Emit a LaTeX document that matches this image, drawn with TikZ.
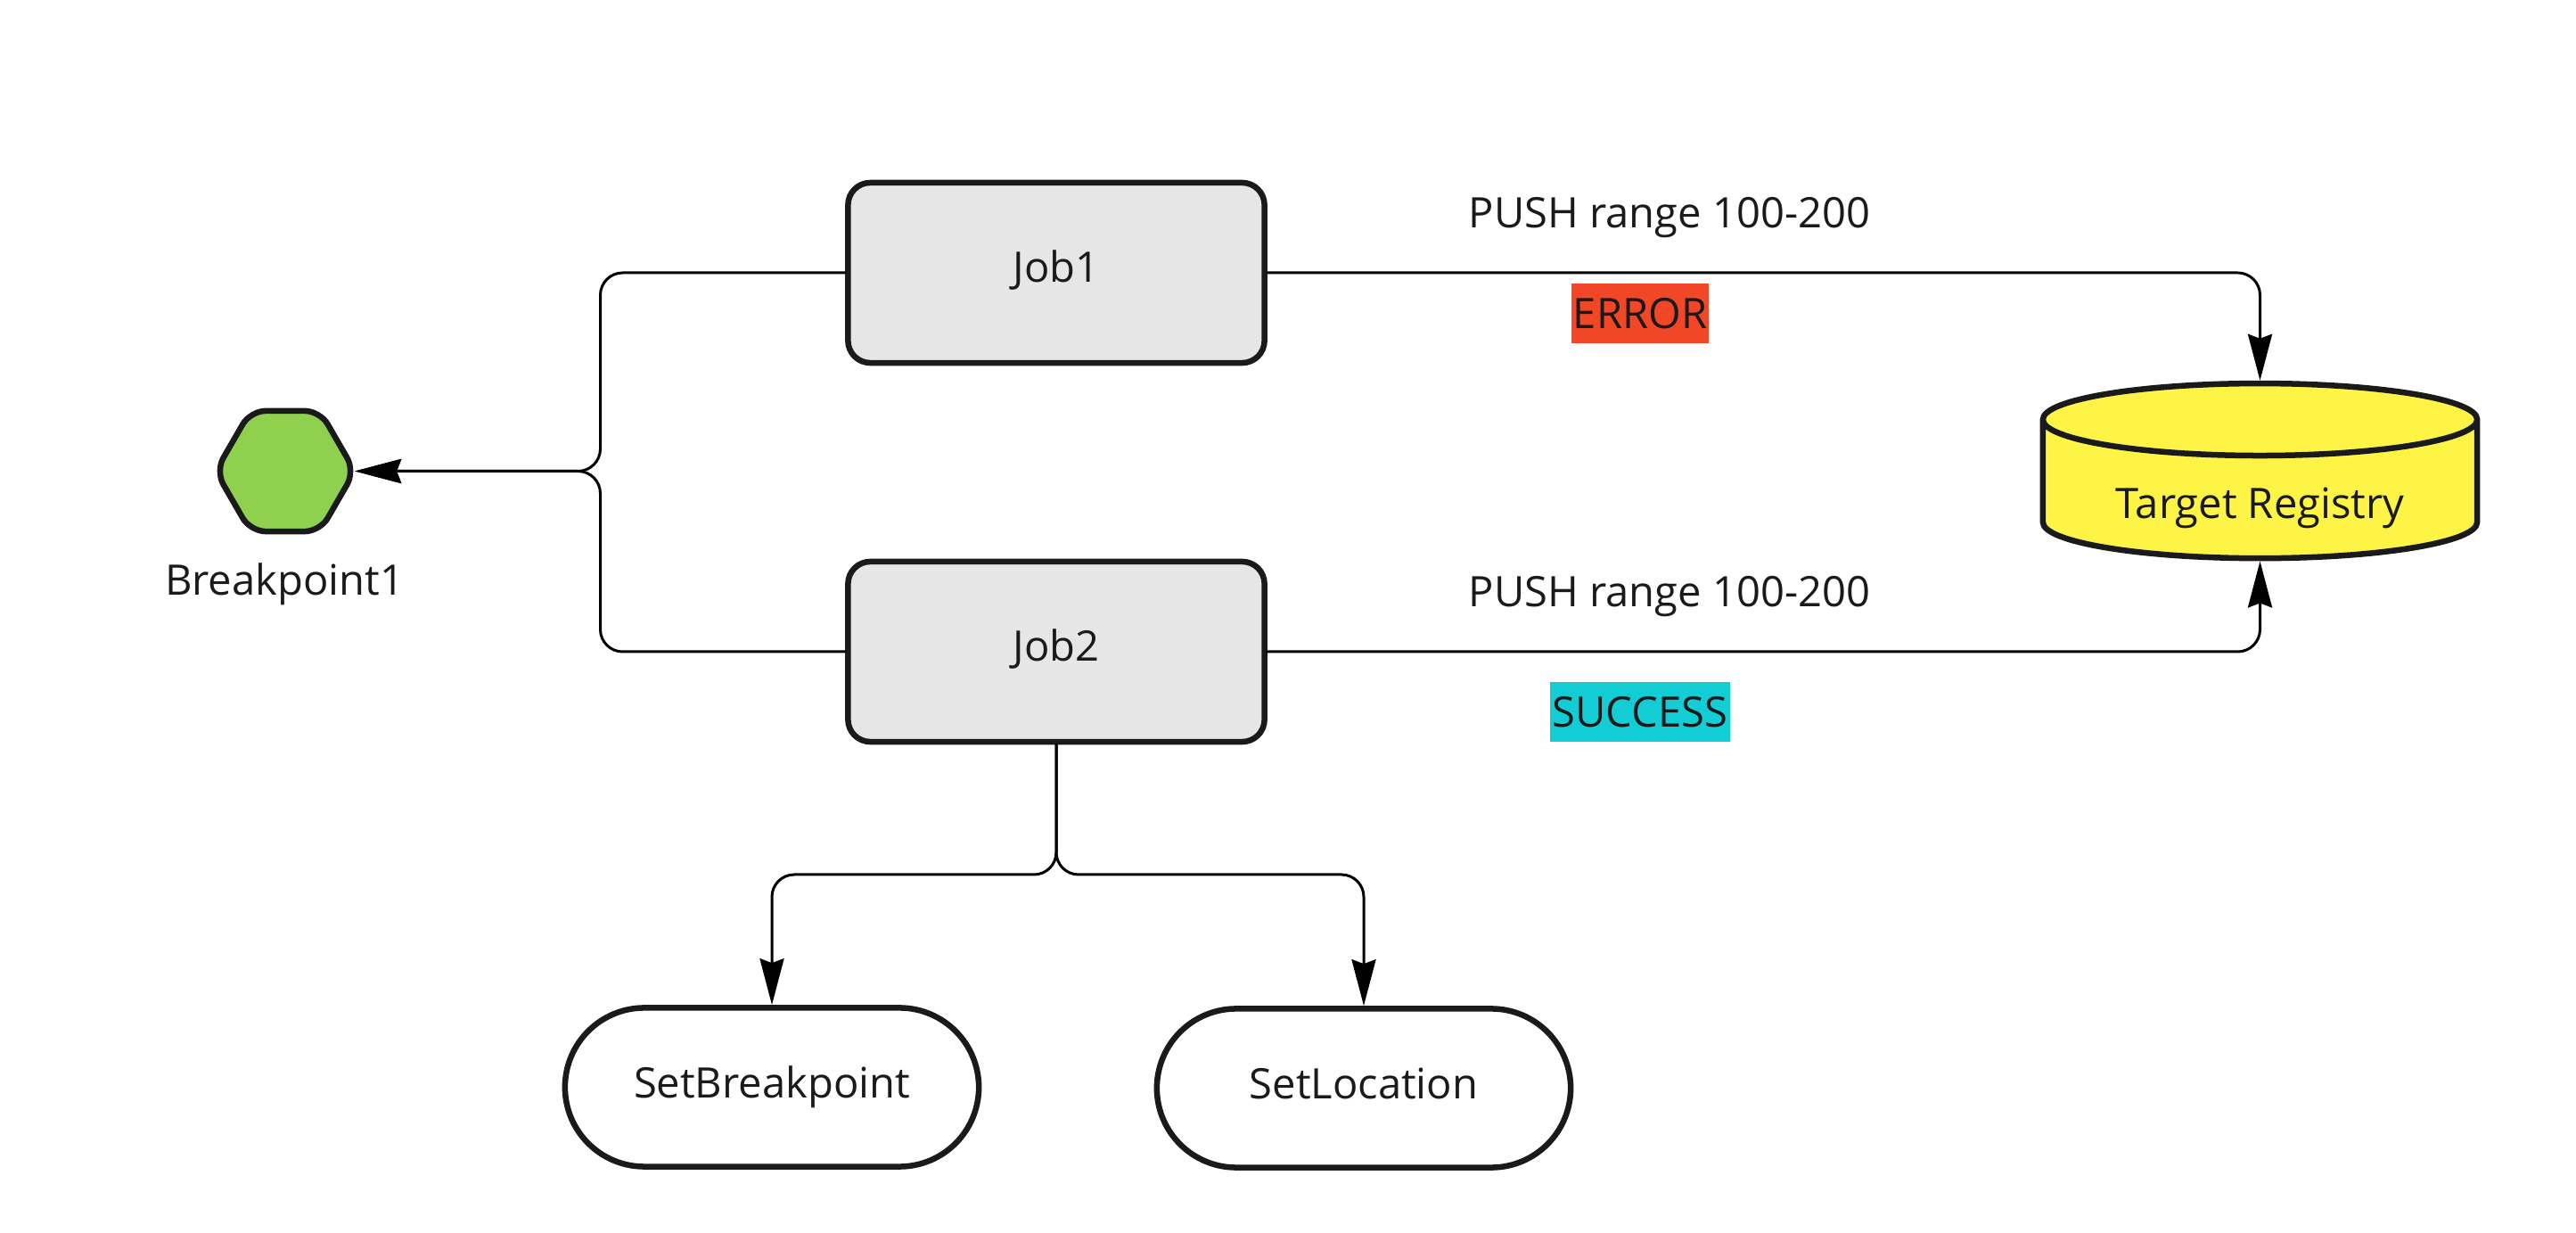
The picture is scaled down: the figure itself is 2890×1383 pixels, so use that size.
\documentclass[tikz,border=0pt]{standalone}
\usepackage{fontspec}
\setmainfont{Open Sans}
\usetikzlibrary{arrows.meta,shapes.geometric,shapes.misc}
\definecolor{inkgray}{HTML}{1A1A1A}
\definecolor{jobgray}{HTML}{E6E6E6}
\definecolor{hexgreen}{HTML}{8FD14F}
\definecolor{dbyellow}{HTML}{FEF445}
\definecolor{errorred}{HTML}{F24726}
\definecolor{successcyan}{HTML}{12CDD4}
\tikzset{
	jobbox/.style={draw=inkgray,fill=jobgray,line width=0.065cm,rounded corners=0.25cm,minimum width=4.67cm,minimum height=2.02cm,inner sep=0pt,text height=0.4cm,text depth=0.18cm},
	pillbox/.style={draw=inkgray,fill=white,line width=0.065cm,rounded rectangle,minimum width=4.64cm,minimum height=1.78cm,inner sep=0pt,text height=0.42cm,text depth=0.18cm},
	tagbox/.style={inner sep=0pt,text height=0.34cm,text depth=0cm},
	plaintext/.style={anchor=base,inner sep=0pt},
	conn/.style={line width=0.03cm,rounded corners=0.25cm}
}
\begin{document}
\begin{tikzpicture}[line cap=round,line join=round,>={Stealth[length=0.52cm,width=0.27cm,inset=0.05cm]},x=0.01cm,y=-0.01cm,every node/.append style={text=inkgray,font=\fontsize{13.4}{16}\selectfont}]
	\useasboundingbox (0,0) rectangle (2890,1383);
	\node [jobbox] (job1) at (1185,306) {Job1};
	\node [jobbox] (job2) at (1185,731) {Job2};
	\node [draw=inkgray,fill=hexgreen,line width=0.065cm,regular polygon,regular polygon sides=6,minimum size=1.56cm,inner sep=0pt,outer sep=0pt,rounded corners=0.17cm] (hexa) at (320,528.5) {};
	\node [plaintext] (hexalabel) at (319,668) {Breakpoint1};
	\node [draw=inkgray,fill=dbyellow,line width=0.065cm,cylinder,shape border rotate=90,aspect=0.25,cylinder uses custom fill,cylinder body fill=dbyellow,cylinder end fill=dbyellow,minimum width=4.87cm,minimum height=1.96cm,inner sep=0pt] (registry) at (2535.5,550) {\raisebox{-0.31cm}[0pt][0pt]{Target Registry}};
	\node [pillbox] (setbp) at (866,1219.5) {SetBreakpoint};
	\node [pillbox] (setloc) at (1530,1220.5) {SetLocation};
	\node [plaintext] (push1) at (1873,256) {PUSH range 100-200};
	\node [plaintext] (push2) at (1873,681) {PUSH range 100-200};
	\node [tagbox,fill=errorred,minimum width=1.54cm,minimum height=0.67cm] (errortag) at (1840,351.5) {ERROR};
	\node [tagbox,fill=successcyan,minimum width=2.02cm,minimum height=0.67cm] (successtag) at (1840,798.5) {SUCCESS};
	\coordinate (forkl) at (673.5,528.5);
	\coordinate (forkb) at (1185,981);
	\draw [conn,->] (job1.west) -| (forkl) -- (hexa.east);
	\draw [conn,->] (job2.west) -| (forkl) -- (hexa.east);
	\draw [conn,->] (job1.east) -| (registry.top);
	\draw [conn,->] (job2.east) -| (registry.bottom);
	\draw [conn,->] (job2.south) -- (forkb) -| (setbp.north);
	\draw [conn,->] (job2.south) -- (forkb) -| (setloc.north);
\end{tikzpicture}
\end{document}
